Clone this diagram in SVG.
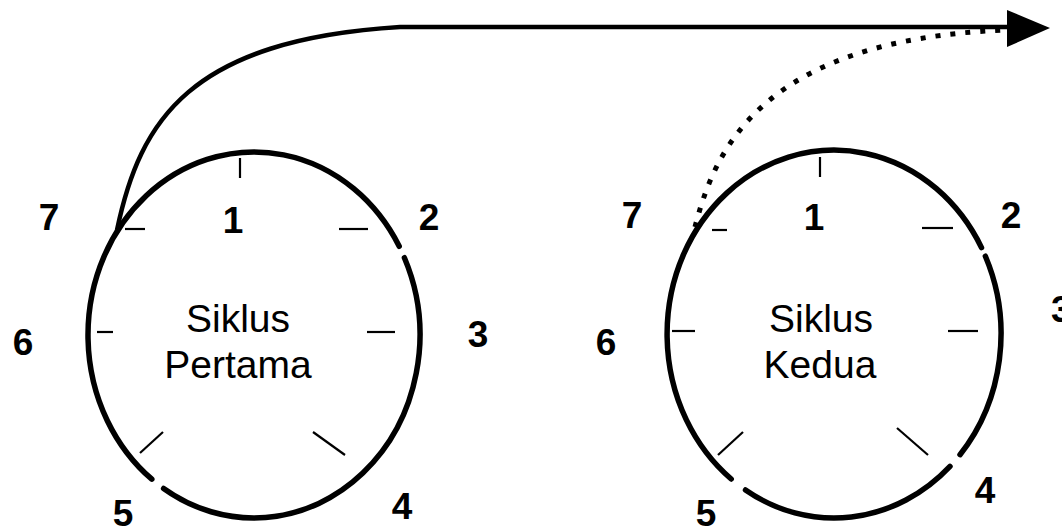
<svg xmlns="http://www.w3.org/2000/svg" width="1062" height="532" viewBox="0 0 1062 532">
<style>
.arc{fill:none;stroke:#000;stroke-width:5.5;stroke-linecap:round}
.tick{stroke:#000;stroke-width:2.2;fill:none}
.num{font-family:"Liberation Sans",Arial,sans-serif;font-weight:bold;font-size:37px;fill:#000;text-anchor:middle}
.lbl{font-family:"Liberation Sans",Arial,sans-serif;font-size:39px;fill:#000;text-anchor:middle}
</style>
<rect width="1062" height="532" fill="#fff"/>
<g id="connectors">
<path d="M117,230 C140,120 190,40 400,27 L1010,27" fill="none" stroke="#000" stroke-width="4.5"/>
<path d="M695,227 C715,150 760,40 1005,30" fill="none" stroke="#000" stroke-width="5" stroke-dasharray="5 10"/>
<polygon points="1007,10 1050,28 1007,47" fill="#000"/>
</g>
<g id="cycle1">
<path class="arc" d="M404.4,257.7 A166,183 0 0 1 163.6,488.5"/>
<path class="arc" d="M151.8,479.2 A166,183 0 1 1 399.2,246.3"/>
<line class="tick" x1="240" y1="158" x2="240" y2="178"/>
<line class="tick" x1="125" y1="229" x2="145" y2="229"/>
<line class="tick" x1="339" y1="229" x2="368" y2="229"/>
<line class="tick" x1="97" y1="332" x2="113" y2="332"/>
<line class="tick" x1="367" y1="332" x2="395" y2="332"/>
<line class="tick" x1="140" y1="453" x2="163" y2="432"/>
<line class="tick" x1="313" y1="432" x2="345" y2="455"/>
<text class="lbl" x="238" y="332">Siklus</text>
<text class="lbl" x="238" y="378">Pertama</text>
<text class="num" x="49" y="230">7</text>
<text class="num" x="233" y="233">1</text>
<text class="num" x="429" y="230">2</text>
<text class="num" x="478" y="347">3</text>
<text class="num" x="402" y="519">4</text>
<text class="num" x="123" y="526">5</text>
<text class="num" x="23" y="355">6</text>
</g>
<g id="cycle2">
<path class="arc" d="M985.4,256.2 A167,184 0 0 1 960.0,454.7"/>
<path class="arc" d="M950.0,466.4 A167,184 0 0 1 745.5,490.0"/>
<path class="arc" d="M731.2,479.0 A167,184 0 1 1 981.5,247.6"/>
<line class="tick" x1="820" y1="157" x2="820" y2="177"/>
<line class="tick" x1="712" y1="230" x2="727" y2="230"/>
<line class="tick" x1="922" y1="228" x2="953" y2="228"/>
<line class="tick" x1="672" y1="331" x2="695" y2="331"/>
<line class="tick" x1="948" y1="331" x2="978" y2="331"/>
<line class="tick" x1="718" y1="455" x2="743" y2="432"/>
<line class="tick" x1="897" y1="428" x2="928" y2="455"/>
<text class="lbl" x="821" y="332">Siklus</text>
<text class="lbl" x="820" y="378">Kedua</text>
<text class="num" x="632" y="228">7</text>
<text class="num" x="814" y="230">1</text>
<text class="num" x="1011" y="228">2</text>
<text class="num" x="1051" y="322" style="text-anchor:start">3</text>
<text class="num" x="985" y="503">4</text>
<text class="num" x="706" y="526">5</text>
<text class="num" x="606" y="355">6</text>
</g>
</svg>
